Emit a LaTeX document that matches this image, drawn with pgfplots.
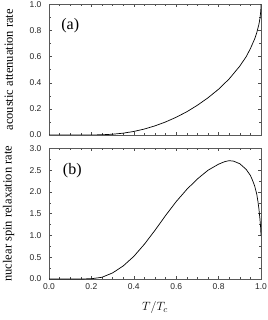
\documentclass[border=0pt]{standalone}
\usepackage{pgfplots}
\pgfplotsset{compat=1.18}
\usepackage{fontspec}
\setmainfont{Liberation Serif}
\setsansfont{Liberation Sans}
\pgfplotstableread{
T a
0.00 0
0.10 0
0.15 0.00001
0.20 0.0003
0.25 0.0018
0.30 0.0059
0.35 0.0140
0.40 0.0271
0.45 0.0458
0.50 0.070
0.55 0.100
0.60 0.136
0.65 0.178
0.70 0.228
0.75 0.285
0.80 0.351
0.85 0.430
0.90 0.528
0.93 0.600
0.95 0.662
0.97 0.736
0.98 0.784
0.99 0.847
0.995 0.892
0.999 0.952
1.00 1.0
}\tableA
\pgfplotstableread{
T b
0.00 0
0.10 0
0.15 0.0005
0.20 0.006
0.25 0.04
0.30 0.14
0.35 0.30
0.40 0.52
0.45 0.80
0.50 1.12
0.55 1.46
0.60 1.78
0.65 2.06
0.70 2.30
0.75 2.50
0.80 2.64
0.83 2.70
0.85 2.72
0.87 2.71
0.90 2.65
0.93 2.52
0.95 2.38
0.96 2.27
0.97 2.14
0.98 1.95
0.985 1.80
0.99 1.62
0.995 1.38
0.998 1.20
1.00 1.00
}\tableB
\begin{document}
\begin{tikzpicture}
\useasboundingbox (0pt,0pt) rectangle (267pt,320pt);
\pgfplotsset{
  myax/.style={
    scale only axis, width=212pt, height=130.5pt,
    anchor=south west,
    xmin=0, xmax=1, ymin=0,
    xtick={0,0.2,0.4,0.6,0.8,1.0}, minor x tick num=3,
    minor y tick num=1,
    tick align=inside,
    major tick length=3pt, minor tick length=1.6pt,
    axis line style={black!65, line width=0.9pt},
    every tick/.append style={black!70, line width=0.5pt},
    tick label style={font=\fontsize{8.5}{9}\selectfont\sffamily, text=black!85},
    yticklabel style={xshift=-4pt},
    xticklabel style={yshift=-1pt},
    /pgf/number format/.cd, fixed, fixed zerofill, precision=1, assume math mode=true, /pgfplots/.cd,
    ylabel style={at={(axis description cs:-0.19,0.5)}, anchor=center, font=\fontsize{12.5}{13}\selectfont},
  }
}
\begin{axis}[myax, at={(49pt,185pt)}, ymax=1,
  ytick={0,0.2,0.4,0.6,0.8,1.0},
  xticklabels={},
  ylabel={acoustic attenuation rate}]
\addplot[black, line width=0.7pt] table[x=T,y=a] {\tableA};
\node[font=\fontsize{16}{18}\selectfont] at (axis description cs:0.1,0.835) {(a)};
\end{axis}
\begin{axis}[myax, at={(49pt,41pt)}, ymax=3,
  ytick={0,0.5,1.0,1.5,2.0,2.5,3.0},
  ylabel={nuclear spin relaxation rate},
  xlabel={$T/T_c$},
  xlabel style={at={(axis description cs:0.5,-0.22)}, anchor=center, font=\fontsize{13}{14}\selectfont}]
\addplot[black, line width=0.7pt] table[x=T,y=b] {\tableB};
\node[font=\fontsize{16}{18}\selectfont] at (axis description cs:0.11,0.83) {(b)};
\end{axis}
\end{tikzpicture}
\end{document}
